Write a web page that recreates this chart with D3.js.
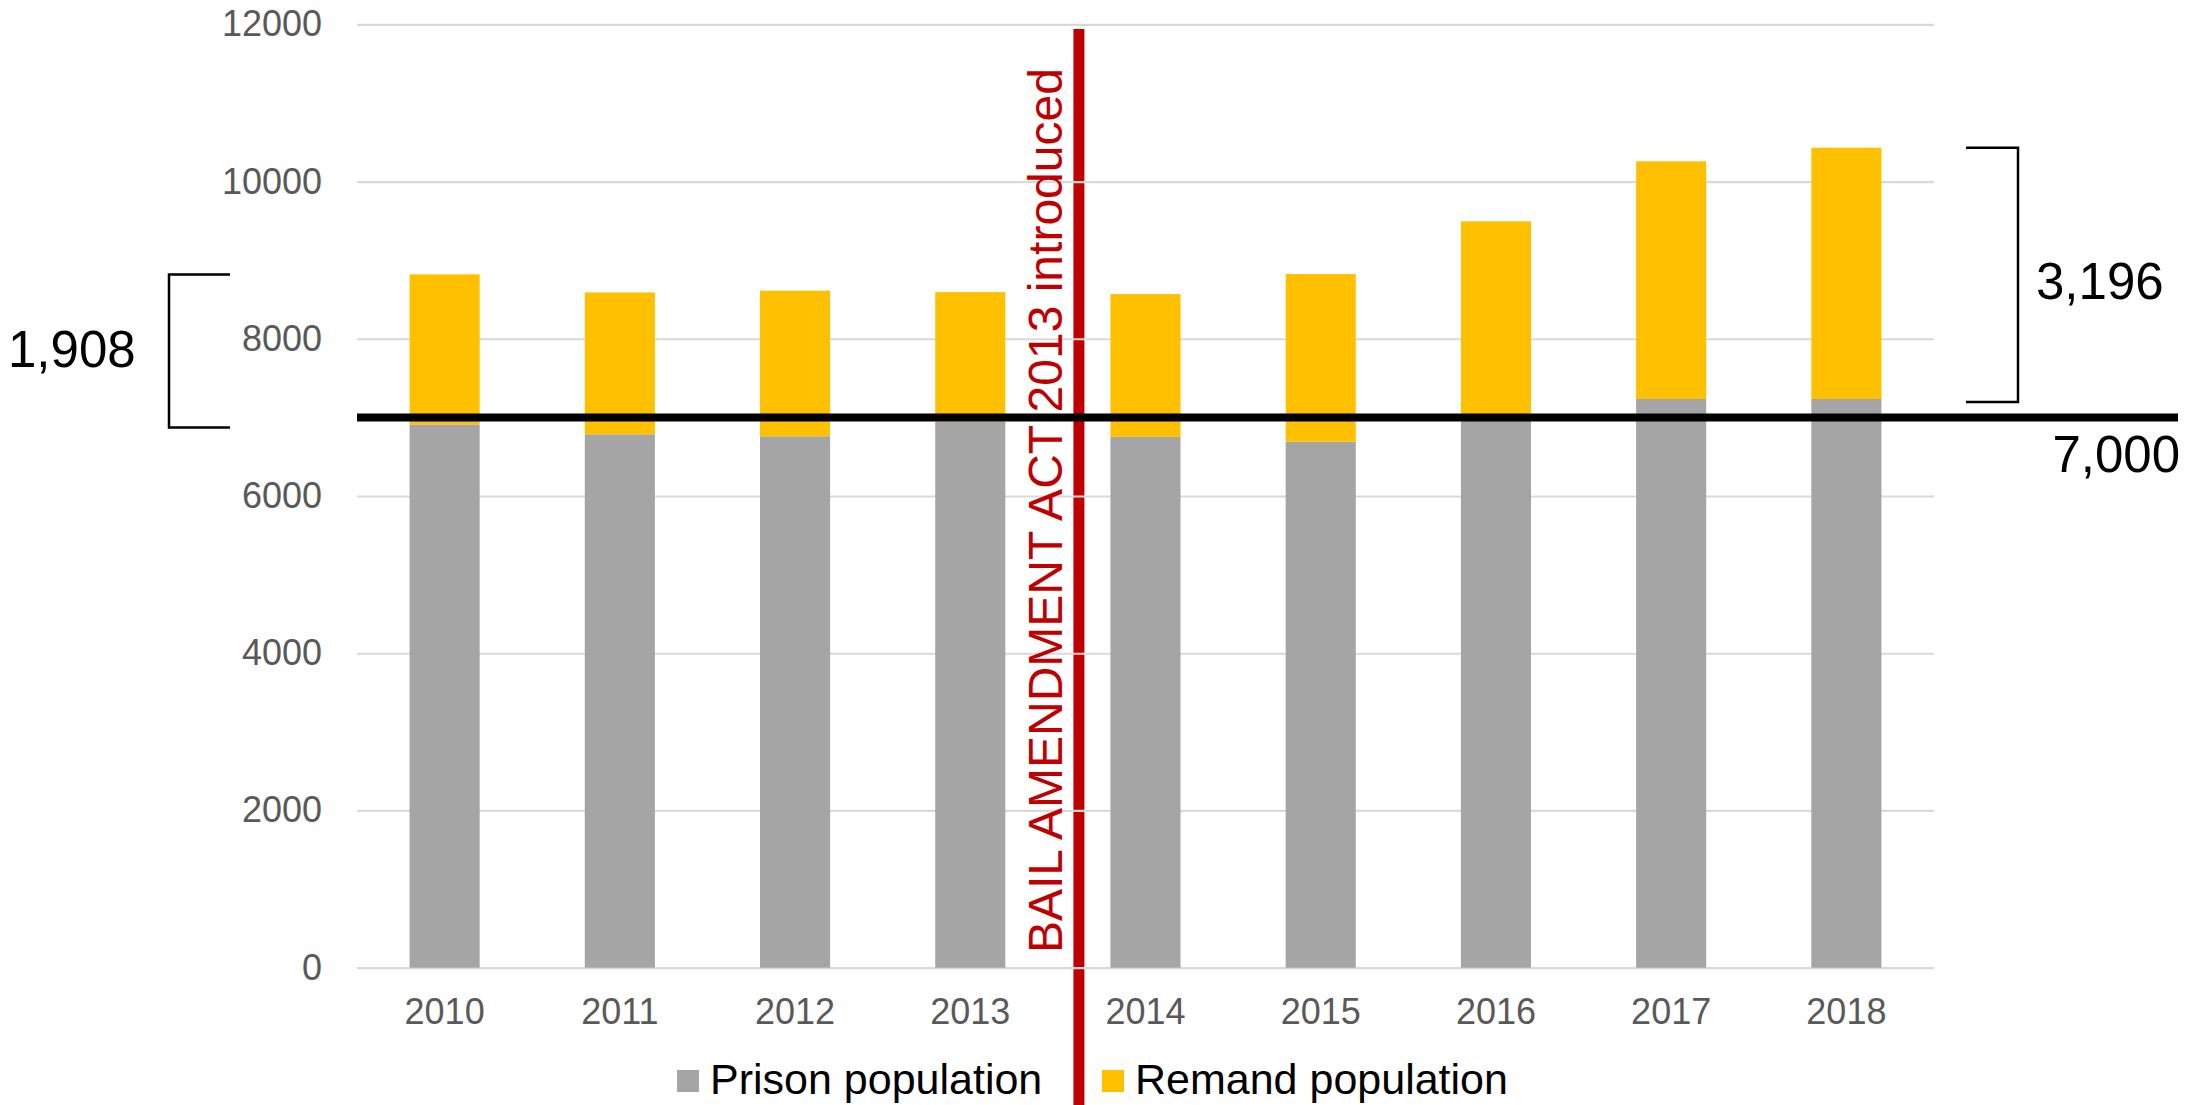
<!DOCTYPE html>
<html>
<head>
<meta charset="utf-8">
<script src="https://cdn.jsdelivr.net/npm/d3@7"></script>
<style>
  html, body { margin: 0; padding: 0; background: #ffffff; }
  svg { display: block; font-family: "Liberation Sans", Arial, sans-serif; }
</style>
</head>
<body>
<svg id="chart" width="2210" height="1105"></svg>
<script>
// Yearly populations (people)
const years = ["2010", "2011", "2012", "2013", "2014", "2015", "2016", "2017", "2018"];
const prisonPopulation = [6911, 6785, 6760, 6947, 6752, 6690, 6958, 7234, 7234];
const remandPopulation = [1908, 1804, 1851, 1647, 1817, 2133, 2536, 3023, 3196];
const yTicks = [0, 2000, 4000, 6000, 8000, 10000, 12000];
const seriesNames = ["Prison population", "Remand population"];
const thresholdValue = 7000;
const actYearBefore = "2013";
const actLabel = "BAIL AMENDMENT ACT 2013 introduced";

const colors = { prison: "#A5A5A5", remand: "#FFC000", act: "#C00000", grid: "#D9D9D9", tick: "#595959" };

const svg = d3.select("#chart");
svg.append("rect").attr("width", 2210).attr("height", 1105).attr("fill", "#fff");

const x = d3.scaleBand().domain(years).range([357, 1934]).paddingInner(0.6).paddingOuter(0.3);
const y = d3.scaleLinear().domain([0, 12000]).range([967.7, 24.3]);
const fmt = d3.format(",");

// Act marker line, just after the 2013 column
const actX = x(actYearBefore) + x.bandwidth() / 2 + x.step() * 0.62;
svg.append("line")
  .attr("x1", actX).attr("x2", actX)
  .attr("y1", 29).attr("y2", 1105)
  .attr("stroke", colors.act).attr("stroke-width", 11);

// Horizontal gridlines and value labels
const yAxis = d3.axisLeft(y).tickValues(yTicks).tickSize(-(x.range()[1] - x.range()[0])).tickPadding(35).tickFormat(d3.format("d"));
const gy = svg.append("g").attr("transform", `translate(${x.range()[0]},0)`).call(yAxis);
gy.select(".domain").remove();
gy.selectAll(".tick line").attr("stroke", colors.grid).attr("stroke-width", 2.2);
gy.selectAll(".tick text").attr("fill", colors.tick).attr("font-size", 36)
  .attr("font-family", "'Liberation Sans', Arial, sans-serif");

// Stacked columns
const rows = years.map((yr, i) => ({ year: yr, prison: prisonPopulation[i], remand: remandPopulation[i] }));
const stacked = d3.stack().keys(["prison", "remand"])(rows);
svg.append("g").selectAll("g").data(stacked).join("g")
  .attr("fill", d => colors[d.key])
  .selectAll("rect").data(d => d).join("rect")
  .attr("x", d => x(d.data.year))
  .attr("width", x.bandwidth())
  .attr("y", d => y(d[1]))
  .attr("height", d => y(d[0]) - y(d[1]));

// Year labels
const xAxis = d3.axisBottom(x).tickSize(0).tickPadding(31);
const gx = svg.append("g").attr("transform", `translate(0,${y(0)})`).call(xAxis);
gx.select(".domain").remove();
gx.selectAll(".tick text").attr("fill", colors.tick).attr("font-size", 36)
  .attr("font-family", "'Liberation Sans', Arial, sans-serif");

// 7,000 reference line
svg.append("line")
  .attr("x1", x.range()[0]).attr("x2", 2178)
  .attr("y1", y(thresholdValue)).attr("y2", y(thresholdValue))
  .attr("stroke", "#000").attr("stroke-width", 8);
svg.append("text")
  .attr("x", 2180).attr("y", y(thresholdValue) + 55)
  .attr("text-anchor", "end").attr("font-size", 51).attr("fill", "#000")
  .text(fmt(thresholdValue));

// Brackets showing the remand population in the first and last years
const first = 0, last = years.length - 1;
const lTop = y(prisonPopulation[first] + remandPopulation[first]);
const lBot = y(prisonPopulation[first]);
svg.append("path")
  .attr("d", `M230,${lTop} H169 V${lBot + 3} H230`)
  .attr("fill", "none").attr("stroke", "#000").attr("stroke-width", 2.5);
svg.append("text")
  .attr("x", 8).attr("y", (lTop + lBot) / 2 + 18)
  .attr("font-size", 51).attr("fill", "#000")
  .text(fmt(remandPopulation[first]));

const rTop = y(prisonPopulation[last] + remandPopulation[last]);
const rBot = y(prisonPopulation[last]);
svg.append("path")
  .attr("d", `M1966,${rTop} H2018 V${rBot + 3} H1966`)
  .attr("fill", "none").attr("stroke", "#000").attr("stroke-width", 2.5);
svg.append("text")
  .attr("x", 2036).attr("y", (rTop + rBot) / 2 + 26)
  .attr("font-size", 51).attr("fill", "#000")
  .text(fmt(remandPopulation[last]));

// Vertical act label
svg.append("text")
  .attr("transform", `translate(${actX - 17},953) rotate(-90)`)
  .attr("font-size", 48).attr("fill", colors.act)
  .text(actLabel);

// Legend
const legend = [
  { name: seriesNames[0], color: colors.prison, x: 677 },
  { name: seriesNames[1], color: colors.remand, x: 1102 }
];
const lg = svg.append("g").selectAll("g").data(legend).join("g")
  .attr("transform", d => `translate(${d.x},1070)`);
lg.append("rect").attr("width", 22).attr("height", 22).attr("fill", d => d.color);
lg.append("text").attr("x", 33).attr("y", 24).attr("font-size", 43).attr("fill", "#000").text(d => d.name);
</script>
</body>
</html>
